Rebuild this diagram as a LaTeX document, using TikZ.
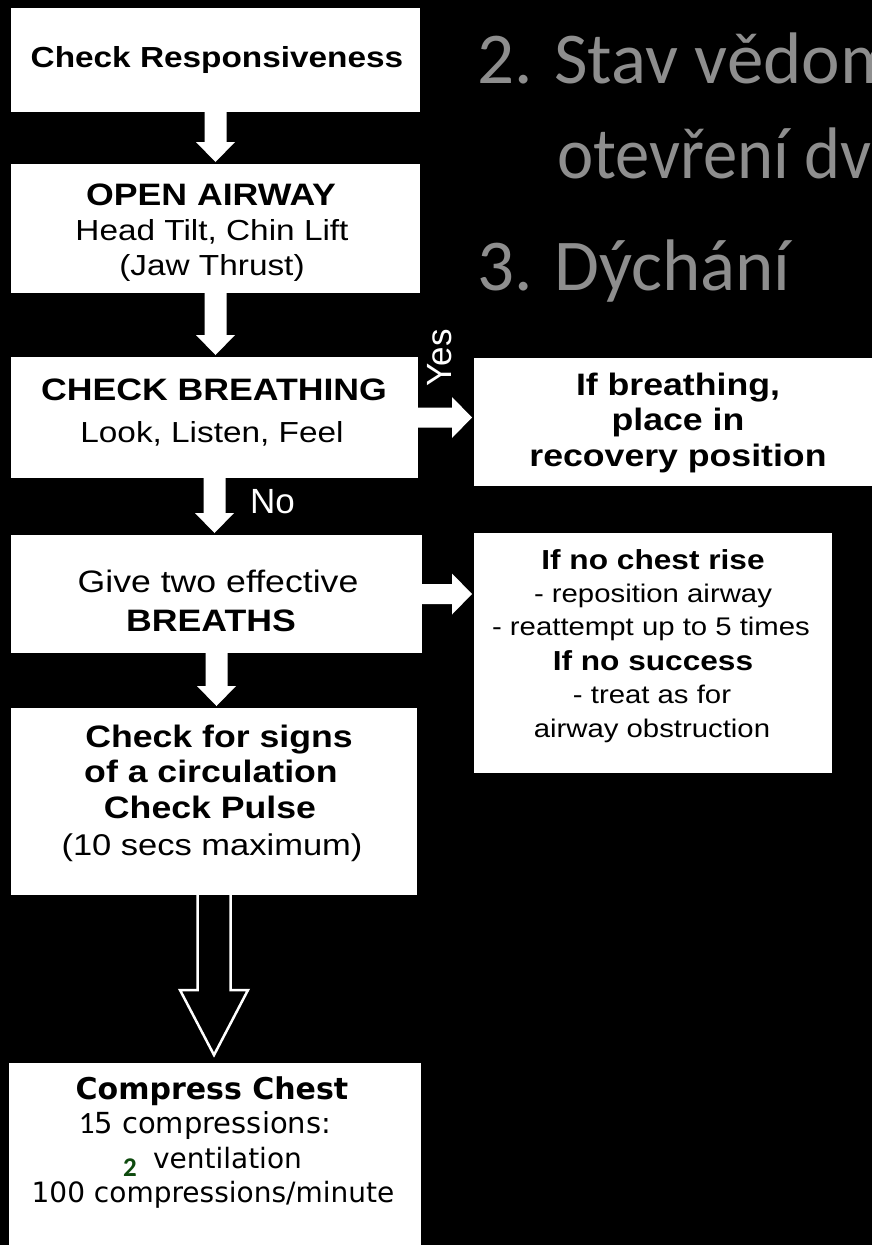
\documentclass[tikz,border=0pt]{standalone}
\usepackage{fontspec}
\setmainfont{Liberation Sans}
\newfontfamily\arw[FakeStretch=1.15]{Liberation Sans}
\newfontfamily\dvs{DejaVu Sans}
\newfontfamily\carl{Carlito}
\newfontfamily\carlnarrow[FakeStretch=0.94]{Carlito}
\newcommand{\fsz}[1]{\fontsize{#1}{#1}\selectfont}
\definecolor{headgray}{RGB}{142,142,142}
\definecolor{numgreen}{RGB}{14,74,14}
% solid white block arrow downwards, from node #1 to node #2
\newcommand{\dnarrow}[2]{%
  \coordinate (da) at (#1.south);
  \coordinate (dt0) at (#1.south |- #2.north);
  \coordinate (dt) at ([yshift=2pt]dt0);
  \fill[white] ([xshift=-11pt]da) -- ([xshift=-11pt,yshift=20pt]dt) -- ([xshift=-19.5pt,yshift=20pt]dt) -- (dt)
    -- ([xshift=19.5pt,yshift=20pt]dt) -- ([xshift=11pt,yshift=20pt]dt) -- ([xshift=11pt]da) -- cycle;}
% solid white block arrow to the right, from node #1 to node #2
\newcommand{\rtarrow}[2]{%
  \coordinate (ra) at (#1.east);
  \coordinate (rt0) at (#1.east -| #2.west);
  \coordinate (rt) at ([xshift=-2pt]rt0);
  \fill[white] ([yshift=10pt]ra) -- ([xshift=-20pt,yshift=10pt]rt) -- ([xshift=-20pt,yshift=20.5pt]rt) -- (rt)
    -- ([xshift=-20pt,yshift=-20.5pt]rt) -- ([xshift=-20pt,yshift=-10pt]rt) -- ([yshift=-10pt]ra) -- cycle;}
\begin{document}
\begin{tikzpicture}[x=1pt,y=-1pt,
  box/.style={rectangle, fill=white, draw=none, inner sep=0pt, outer sep=0pt},
  txt/.style={inner sep=0pt, outer sep=0pt, anchor=base, text=black},
  wtxt/.style={inner sep=0pt, outer sep=0pt, text=white},
  headtxt/.style={inner sep=0pt, outer sep=0pt, anchor=base west, text=headgray, font=\carl\fsz{73}},
  hollow/.style={draw=white, line width=2.5pt, fill=black, line join=miter}]
\useasboundingbox (0,0) rectangle (872,1245);
\clip (0,0) rectangle (872,1245);
\fill[black] (0,0) rectangle (872,1245);

% heading text
\node[headtxt] (h1) at (477,83) {2. Stav vědom};
\node[headtxt, font=\carlnarrow\fsz{73}] (h2) at (557,178) {otevření dv};
\node[headtxt] (h3) at (477,290) {3. Dýchání};

% boxes
\node[box, minimum width=409pt, minimum height=104pt] (b1) at (215.5,60) {};
\node[box, minimum width=409pt, minimum height=129pt] (b2) at (215.5,228.5) {};
\node[box, minimum width=407pt, minimum height=121pt] (b3) at (214.5,417.5) {};
\node[box, minimum width=406pt, minimum height=128pt] (b4) at (677,422) {};
\node[box, minimum width=411pt, minimum height=118pt] (b5) at (216.5,594) {};
\node[box, minimum width=358pt, minimum height=240pt] (b6) at (653,653) {};
\node[box, minimum width=406pt, minimum height=187pt] (b7) at (214,801.5) {};
\node[box, minimum width=412pt, minimum height=197pt] (b8) at (215,1161.5) {};

% connectors
\dnarrow{b1}{b2}
\dnarrow{b2}{b3}
\dnarrow{b3}{b5}
\dnarrow{b5}{b7}
\rtarrow{b3}{b4}
\rtarrow{b5}{b6}
\coordinate (ha) at (b7.south);
\coordinate (ht0) at (b7.south |- b8.north);
\coordinate (ht) at ([yshift=8pt]ht0);
\filldraw[hollow] ([xshift=-16.5pt]ha) -- ([xshift=-16.5pt,yshift=65pt]ht) -- ([xshift=-34pt,yshift=65pt]ht) -- (ht)
  -- ([xshift=34pt,yshift=65pt]ht) -- ([xshift=16.5pt,yshift=65pt]ht) -- ([xshift=16.5pt]ha);

% connector labels
\node[wtxt, rotate=90, font=\fsz{35}] (yes) at (440,358) {Yes};
\node[wtxt, anchor=base west, font=\fsz{35}] (no) at (250,513) {No};

% box texts
\node[txt, font=\arw\bfseries\fsz{29}] (t1) at (217,67) {Check Responsiveness};

\node[txt, font=\arw\bfseries\fsz{31}] (t2a) at (211,205) {OPEN AIRWAY};
\node[txt, font=\arw\fsz{29}] (t2b) at (212,240) {Head Tilt, Chin Lift};
\node[txt, font=\arw\fsz{29}] (t2c) at (212,275) {(Jaw Thrust)};

\node[txt, font=\arw\bfseries\fsz{31}] (t3a) at (214,400) {CHECK BREATHING};
\node[txt, font=\arw\fsz{29}] (t3b) at (212,442) {Look, Listen, Feel};

\node[txt, font=\arw\bfseries\fsz{31}] (t4a) at (678,395) {If breathing,};
\node[txt, font=\arw\bfseries\fsz{31}] (t4b) at (678,430) {place in};
\node[txt, font=\arw\bfseries\fsz{31}] (t4c) at (678,466) {recovery position};

\node[txt, font=\arw\fsz{31}] (t5a) at (218,592) {Give two effective};
\node[txt, font=\arw\bfseries\fsz{31}] (t5b) at (211,631) {BREATHS};

\node[txt, font=\arw\bfseries\fsz{27.5}] (t6a) at (653,569) {If no chest rise};
\node[txt, font=\arw\fsz{25.5}] (t6b) at (653,602) {- reposition airway};
\node[txt, font=\arw\fsz{25.5}] (t6c) at (651,635) {- reattempt up to 5 times};
\node[txt, font=\arw\bfseries\fsz{27.5}] (t6d) at (653,670) {If no success};
\node[txt, font=\arw\fsz{25.5}] (t6e) at (652,703) {- treat as for};
\node[txt, font=\arw\fsz{25.5}] (t6f) at (652,737) {airway obstruction};

\node[txt, font=\arw\bfseries\fsz{31}] (t7a) at (219,747) {Check for signs};
\node[txt, font=\arw\bfseries\fsz{31}] (t7b) at (211,782) {of a circulation};
\node[txt, font=\arw\bfseries\fsz{31}] (t7c) at (210,818) {Check Pulse};
\node[txt, font=\arw\fsz{30}] (t7d) at (212,855) {(10 secs maximum)};

\node[txt, font=\dvs\bfseries\fsz{30}] (t8a) at (212,1099) {Compress Chest};
\node[txt, font=\dvs\fsz{29}] (t8b) at (205,1133) {{\carl\fsz{31}1}5 compressions:};
\node[txt, anchor=base west, text=numgreen, font=\carl\bfseries\fsz{27}] (t8c) at (123,1176) {2};
\node[txt, anchor=base west, font=\dvs\fsz{28}] (t8d) at (153,1168) {ventilation};
\node[txt, font=\dvs\fsz{28}] (t8e) at (213,1202) {100 compressions/minute};
\end{tikzpicture}
\end{document}
